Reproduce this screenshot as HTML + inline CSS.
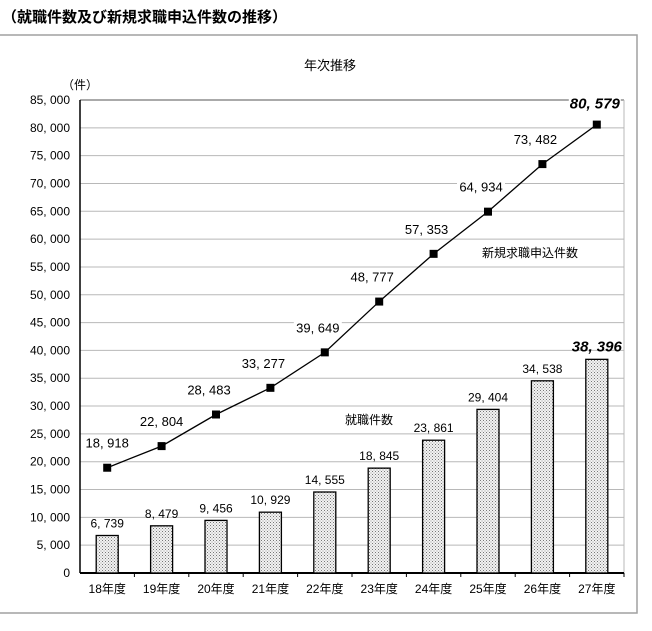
<!DOCTYPE html>
<html><head><meta charset="utf-8"><style>
body{margin:0;background:#fff;width:652px;height:626px;overflow:hidden;font-family:"Liberation Sans","Noto Sans CJK JP",sans-serif}
</style></head><body>
<svg width="652" height="626" xmlns="http://www.w3.org/2000/svg" font-family="Liberation Sans Narrow, Liberation Sans, Noto Sans CJK JP, sans-serif">
<defs><pattern id="dots" width="3" height="3" patternUnits="userSpaceOnUse"><rect width="3" height="3" fill="#f2f2f2"/><rect x="0" y="0" width="1" height="1" fill="#777"/><rect x="1.5" y="1.5" width="1" height="1" fill="#999"/></pattern></defs>
<text x="2" y="22" font-size="15" font-weight="bold" fill="#000">（就職件数及び新規求職申込件数の推移）</text>
<polyline points="0,35 637,35 637,613 0,613" fill="none" stroke="#a0a0a0" stroke-width="1.5"/>
<text x="330" y="70" font-size="13" text-anchor="middle">年次推移</text>
<text x="80" y="89" font-size="12" text-anchor="middle">（件）</text>
<g id="grid"></g><g id="bars"></g><g id="line"></g><g id="labels"></g>
<text x="530" y="257" font-size="12" text-anchor="middle">新規求職申込件数</text>
<text x="369" y="424" font-size="12" text-anchor="middle">就職件数</text>
</svg>
<script>
const categories=["18年度","19年度","20年度","21年度","22年度","23年度","24年度","25年度","26年度","27年度"];
const placements=[6739,8479,9456,10929,14555,18845,23861,29404,34538,38396];
const applications=[18918,22804,28483,33277,39649,48777,57353,64934,73482,80579];
const yTicks=[0,5000,10000,15000,20000,25000,30000,35000,40000,45000,50000,55000,60000,65000,70000,75000,80000,85000];
const NS="http://www.w3.org/2000/svg";
const X0=80,X1=624,Y0=573,Y1=100,YMAX=85000;
const step=(X1-X0)/categories.length;
function xs(i){return X0+step*(i+0.5);}
function ys(v){return Y0-(v/YMAX)*(Y0-Y1);}
function fmt(v){return v.toLocaleString('en-US').replace(',',', ');}
function mk(tag,attrs,parent){const e=document.createElementNS(NS,tag);for(const k in attrs)e.setAttribute(k,attrs[k]);parent.appendChild(e);return e;}
const grid=document.getElementById('grid'),bars=document.getElementById('bars'),line=document.getElementById('line'),labels=document.getElementById('labels');
yTicks.forEach(t=>{
 if(t>0){const g=mk('line',{x1:X0,x2:X1,y1:ys(t),y2:ys(t),stroke:t===YMAX?'#555':'#b8b8b8','stroke-width':1},grid);
 
 }
 const tx=mk('text',{x:X0-10,y:ys(t)+4,'font-size':12,'text-anchor':'end'},grid);tx.textContent=t.toLocaleString('en-US').replace(',',', ');
 
 
});
const r=mk('line',{x1:X1,x2:X1,y1:Y1,y2:Y0,stroke:'#b8b8b8'},grid);


const ya=mk('line',{x1:X0,x2:X0,y1:Y1,y2:Y0,stroke:'#000','stroke-width':1.5},grid);


const xa=mk('line',{x1:X0,x2:X1,y1:Y0,y2:Y0,stroke:'#000','stroke-width':2},grid);


categories.forEach((c,i)=>{
 const tk=mk('line',{x1:X0+step*(i+1),x2:X0+step*(i+1),y1:Y0,y2:Y0+4,stroke:'#000'},grid);
 
 
 const t=mk('text',{x:xs(i),y:Y0+20,'font-size':12,'text-anchor':'middle'},grid);t.textContent=c;
 
 
 const v=placements[i];
 const b=mk('rect',{x:xs(i)-11,y:ys(v),width:22,height:Y0-ys(v),fill:'url(#dots)',stroke:'#000','stroke-width':1.3},bars);
 
 
 const last=i===categories.length-1;
 const bl=mk('text',{x:xs(i),y:ys(v)-8,'font-size':last?15:12,'font-weight':last?'bold':'normal','font-style':last?'italic':'normal','text-anchor':'middle'},labels);bl.textContent=fmt(v);
 
 
});
const pl=mk('polyline',{points:applications.map((v,i)=>xs(i)+','+ys(v)).join(' '),fill:'none',stroke:'#000','stroke-width':1.3},line);


applications.forEach((v,i)=>{
 const m=mk('rect',{x:xs(i)-4,y:ys(v)-4,width:8,height:8,fill:'#000'},line);
 
 
 const last=i===applications.length-1;
 const lx=last?xs(i)-2:(i<2?xs(i):xs(i)-7);
 const bg=mk('rect',{x:lx-(last?26:24),y:ys(v)-(last?30:33),width:last?52:48,height:16,fill:'#fff'},labels);
 
 
 const t=mk('text',{x:lx,y:ys(v)-(last?16:20),'font-size':last?15:13,'font-weight':last?'bold':'normal','font-style':last?'italic':'normal','text-anchor':'middle'},labels);t.textContent=fmt(v);
 
 
});
</script>
</body></html>
